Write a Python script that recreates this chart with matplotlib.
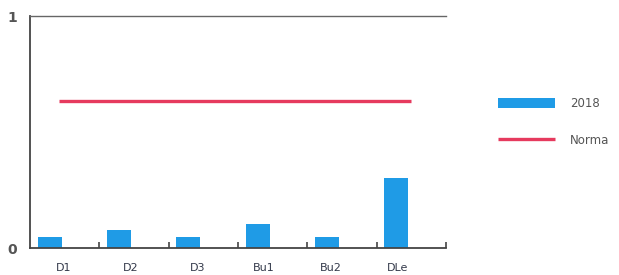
import matplotlib
matplotlib.use("Agg")
import matplotlib.pyplot as plt
import numpy as np

categories = ["D1", "D2", "D3", "Bu1", "Bu2", "DLe"]
values_2018 = [0.048, 0.078, 0.048, 0.104, 0.048, 0.303]
norma = [0.632]
series_labels = ["2018", "Norma"]

blue = "#1f9be6"
red = "#e63a5e"
spine_c = "#444444"

W, H = 619, 275
fig = plt.figure(figsize=(W/100, H/100), dpi=100)
ax = fig.add_axes([30/W, 1-248/H, (446-30)/W, (248-16)/H])

x = np.arange(len(categories))
bars = ax.bar(x + 0.285, values_2018, width=0.346, color=blue, label=series_labels[0], zorder=2)
ln = ax.hlines(norma[0], 0.42, 5.5, color=red, linewidth=2.4, label=series_labels[1], zorder=3)

ax.set_xlim(0, 6)
ax.set_ylim(0, 1)

for s in ["left", "bottom"]:
    ax.spines[s].set_color(spine_c)
    ax.spines[s].set_linewidth(1.3)
ax.spines["top"].set_color("#666666")
ax.spines["top"].set_linewidth(1.0)
ax.spines["right"].set_visible(False)

ax.set_xticks(np.arange(1, 7))
ax.set_xticklabels([])
ax.tick_params(axis="x", which="major", direction="in", length=4, width=1.2, color=spine_c)
ax.set_xticks(np.linspace(0.49, 5.30, len(categories)), minor=True)
ax.set_xticklabels(categories, minor=True, fontsize=8, color="#33394a")
ax.tick_params(axis="x", which="minor", length=0, pad=11)

ax.set_yticks([0, 1])
ax.set_yticklabels(["0", "1"], fontsize=10, color="#555555", fontweight="bold")
ax.tick_params(axis="y", length=0, pad=9)

leg = ax.legend(handles=[bars, ln], loc="upper left", bbox_to_anchor=(498/W, 1-97/H),
                bbox_transform=fig.transFigure, frameon=False, fontsize=8.5,
                handlelength=4.85, handleheight=0.85, labelspacing=2.0,
                handletextpad=1.27, borderpad=0, borderaxespad=0)
for t in leg.get_texts():
    t.set_color("#555555")

fig.savefig("out.png", dpi=100)
